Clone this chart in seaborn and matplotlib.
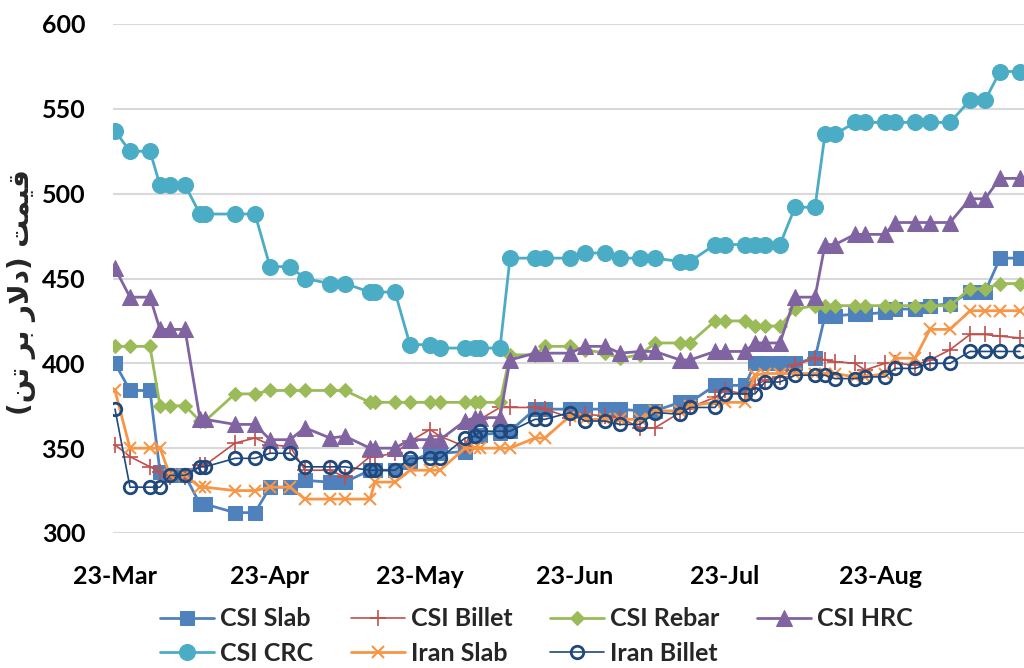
import matplotlib
matplotlib.use("Agg")
import matplotlib.pyplot as plt
import matplotlib.dates as mdates
import seaborn as sns
import pandas as pd

# sample dates (2023)
dates = ["2023-03-01", "2023-03-04", "2023-03-08", "2023-03-10", "2023-03-12", "2023-03-15",
         "2023-03-18", "2023-03-19", "2023-03-25", "2023-03-29", "2023-04-01", "2023-04-05",
         "2023-04-08", "2023-04-13", "2023-04-16", "2023-04-21", "2023-04-22", "2023-04-26",
         "2023-04-29", "2023-05-03", "2023-05-05", "2023-05-10", "2023-05-12", "2023-05-13",
         "2023-05-17", "2023-05-19", "2023-05-24", "2023-05-26", "2023-05-31", "2023-06-03",
         "2023-06-07", "2023-06-10", "2023-06-14", "2023-06-17", "2023-06-22", "2023-06-24",
         "2023-06-29", "2023-07-01", "2023-07-05", "2023-07-07", "2023-07-09", "2023-07-12",
         "2023-07-15", "2023-07-19", "2023-07-21", "2023-07-23", "2023-07-27", "2023-07-29",
         "2023-08-02", "2023-08-04", "2023-08-08", "2023-08-11", "2023-08-15", "2023-08-19",
         "2023-08-22", "2023-08-25", "2023-08-29"]

csi_slab = [400, 384, 384, 336, 334, 334, 317, 317, 312, 312, 327, 327, 331, 330, 330, 337,
            337, 337, 342, 347, 347, 348, 357, 358, 359, 360, 373, 373, 373, 373, 373, 373,
            372, 372, 377, 377, 387, 387, 387, 400, 400, 400, 400, 403, 428, 428, 429, 429,
            430, 432, 432, 434, 435, 442, 442, 462, 462]
csi_billet = [352, 345, 339, 336, 333, 333, 340, 340, 353, 356, 352, 351, 337, 337, 333, 345,
              345, 347, 354, 361, 357, 351, 365, 367, 374, 374, 374, 373, 368, 370, 369, 368,
              362, 362, 371, 374, 380, 384, 382, 387, 390, 392, 399, 403, 402, 401, 400, 396,
              400, 400, 399, 402, 408, 417, 417, 416, 415]
csi_rebar = [410, 410, 410, 375, 375, 375, 366, 366, 382, 382, 384, 384, 384, 384, 384, 377,
             377, 377, 377, 377, 377, 377, 377, 377, 377, 405, 405, 410, 410, 408, 406, 403,
             405, 412, 412, 412, 425, 425, 425, 422, 422, 422, 432, 434, 434, 434, 434, 434,
             434, 434, 434, 434, 434, 444, 444, 447, 447]
csi_hrc = [456, 439, 439, 420, 420, 420, 367, 367, 364, 364, 355, 355, 362, 356, 357, 350,
           350, 350, 355, 355, 355, 366, 368, 368, 368, 402, 406, 406, 406, 410, 410, 406,
           407, 407, 402, 402, 407, 407, 407, 412, 412, 412, 439, 439, 470, 470, 476, 476,
           476, 483, 483, 483, 483, 497, 497, 509, 509]
csi_crc = [537, 525, 525, 505, 505, 505, 488, 488, 488, 488, 457, 457, 450, 447, 447, 442,
           442, 442, 411, 411, 409, 409, 409, 409, 409, 462, 462, 462, 462, 465, 465, 462,
           462, 462, 460, 460, 470, 470, 470, 470, 470, 470, 492, 492, 535, 535, 542, 542,
           542, 542, 542, 542, 542, 555, 555, 572, 572]
iran_slab = [384, 350, 350, 350, 334, 334, 327, 327, 325, 325, 327, 327, 320, 320, 320, 320,
             330, 330, 337, 337, 337, 350, 350, 350, 350, 350, 356, 356, 369, 367, 367, 367,
             367, 372, 372, 375, 377, 377, 377, 393, 394, 394, 394, 394, 394, 394, 392, 392,
             394, 403, 403, 420, 420, 431, 431, 431, 431]
iran_billet = [373, 327, 327, 327, 334, 334, 339, 339, 344, 344, 347, 347, 339, 339, 339, 337,
               337, 337, 344, 344, 344, 356, 357, 360, 360, 360, 367, 367, 371, 366, 366, 364,
               364, 371, 370, 374, 374, 382, 382, 382, 389, 389, 393, 393, 393, 391, 391, 392,
               392, 397, 397, 400, 400, 407, 407, 407, 407]

series_names = ["CSI Slab", "CSI Billet", "CSI Rebar", "CSI HRC", "CSI CRC", "Iran Slab", "Iran Billet"]
series_values = [csi_slab, csi_billet, csi_rebar, csi_hrc, csi_crc, iran_slab, iran_billet]

# persian axis title, written in visual order with shaped letter forms
ylabel = ("(" + "\uFEE6\uFE97" + " " + "\uFEAE\uFE91" + " " + "\uFEAD\uFEFB\uFEA9" + ")"
          + " " + "\uFE96\uFEE4\uFEF4\uFED7")

styles = {
    "CSI Slab":    dict(color="#4F81BD", marker="s", markersize=10, linewidth=2.0),
    "CSI Billet":  dict(color="#C0504D", marker="+", markersize=11, linewidth=1.2, markeredgewidth=1.2),
    "CSI Rebar":   dict(color="#9BBB59", marker="D", markersize=7.5, linewidth=2.0),
    "CSI HRC":     dict(color="#8064A2", marker="^", markersize=11, linewidth=2.0),
    "CSI CRC":     dict(color="#4BACC6", marker="o", markersize=11.5, linewidth=2.0),
    "Iran Slab":   dict(color="#F79646", marker="x", markersize=8, linewidth=2.0, markeredgewidth=1.5),
    "Iran Billet": dict(color="#1F497D", marker="o", markersize=9, linewidth=1.2,
                        markeredgewidth=2, markerfacecolor="none"),
}

rows = []
for name, vals in zip(series_names, series_values):
    for d, v in zip(dates, vals):
        rows.append({"date": pd.Timestamp(d), "price": v, "series": name})
df = pd.DataFrame(rows)

sns.set_theme(style="white")
plt.rcParams['font.family'] = ['Lato', 'DejaVu Sans']

fig = plt.figure(figsize=(10.24, 6.68), dpi=100)
ax = fig.add_axes([113 / 1024, 135 / 668, 1 - 113 / 1024, 509 / 668])

for name in series_names:
    st = dict(styles[name])
    if "markeredgecolor" not in st:
        st["markeredgecolor"] = st["color"]
    sns.lineplot(data=df[df.series == name], x="date", y="price", ax=ax,
                 label=name, legend=False, **st)

ax.set_ylim(300, 600)
ax.set_yticks(range(300, 601, 50))
x0 = mdates.date2num(pd.Timestamp("2023-03-01")) - 0.4
ax.set_xlim(x0, x0 + (1024 - 113) / 5.0)
ax.xaxis.set_major_locator(mdates.MonthLocator())
ax.xaxis.set_major_formatter(mdates.DateFormatter("%y-%b"))

ax.grid(axis="y", color="#D9D9D9", linewidth=1.5)
ax.set_axisbelow(True)
for s in ax.spines.values():
    s.set_visible(False)
ax.tick_params(axis="both", length=0, labelsize=18)
ax.tick_params(axis="y", pad=20)
ax.tick_params(axis="x", pad=23)
for lab in ax.get_xticklabels() + ax.get_yticklabels():
    lab.set_fontweight("bold")
    lab.set_color("black")

ax.set_xlabel("")
ax.set_ylabel("")
fig.text(22 / 1024, 1 - 292 / 668, ylabel, rotation=90, ha="center", va="center",
         fontsize=20, fontweight="bold", family="DejaVu Sans")

handles, labels = ax.get_legend_handles_labels()
order = [0, 4, 1, 5, 2, 6, 3]
fig.legend([handles[i] for i in order], [labels[i] for i in order],
           loc="lower center", bbox_to_anchor=(0.524, -0.021), ncol=4, frameon=False,
           prop={"weight": "bold", "size": 18}, handlelength=2.15, columnspacing=1.5,
           handletextpad=0.25, labelspacing=0.45, borderpad=0.2)

fig.savefig("out.png", dpi=100)
